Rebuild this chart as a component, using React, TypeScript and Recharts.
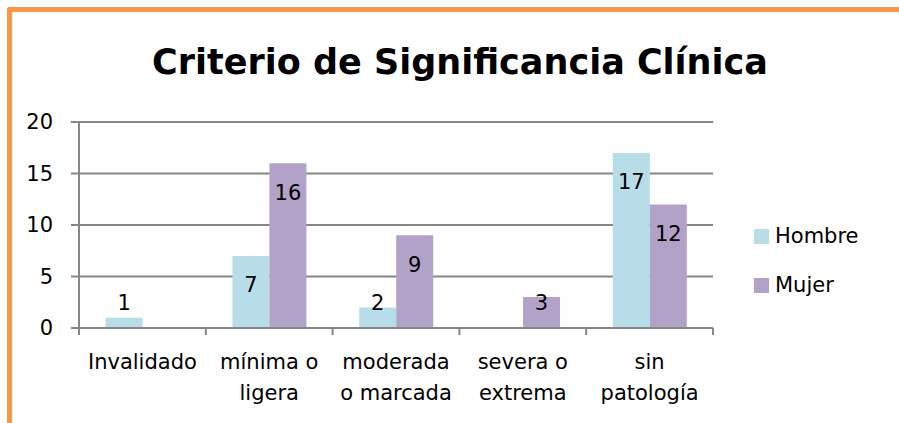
import { BarChart, Bar, XAxis, YAxis, CartesianGrid, Legend, LabelList } from "recharts";

const categories = ["Invalidado", "mínima o\nligera", "moderada\no marcada", "severa o\nextrema", "sin\npatología"];
const hombre = [1, 7, 2, null, 17];
const mujer = [null, 16, 9, 3, 12];
const yTicks = [0, 5, 10, 15, 20];

const data = categories.map((name, i) => ({ name, Hombre: hombre[i], Mujer: mujer[i] }));

const W = 899;
const H = 423;
const PLOT_LEFT = 79;
const PLOT_RIGHT = 713;
const HALF_BAND = (PLOT_RIGHT - PLOT_LEFT) / categories.length / 2;
const FONT = "'DejaVu Sans', sans-serif";
const FS = 21;
const GRID = "#868686";

function CategoryTick(props: any) {
  const { x, y, payload, index } = props;
  const lines = String(payload.value).split("\n");
  return (
    <g>
      <line x1={x - HALF_BAND} x2={x - HALF_BAND} y1={y} y2={y + 7} stroke={GRID} strokeWidth={2} />
      {index === categories.length - 1 && (
        <line x1={x + HALF_BAND} x2={x + HALF_BAND} y1={y} y2={y + 7} stroke={GRID} strokeWidth={2} />
      )}
      <text x={x} y={y + 41} textAnchor="middle" fontSize={FS} fontFamily={FONT} fill="#000">
        {lines.map((l, i) => (
          <tspan key={i} x={x} dy={i === 0 ? 0 : 31}>
            {l}
          </tspan>
        ))}
      </text>
    </g>
  );
}

// etiqueta "inside end", bajada a la base cuando la barra es corta
function BarValue(props: any) {
  const { x, y, width, height, value } = props;
  if (value == null) return null;
  const cy = Math.min(y + 29, y + height - 26);
  return (
    <text x={x + width / 2} y={cy} dy="0.36em" textAnchor="middle" fontSize={FS} fontFamily={FONT} fill="#000">
      {value}
    </text>
  );
}

function LegendBox({ payload }: any) {
  return (
    <div style={{ fontFamily: FONT, fontSize: FS, color: "#000" }}>
      {(payload || []).map((p: any) => (
        <div key={p.value} style={{ display: "flex", alignItems: "center", height: 24, marginBottom: 25 }}>
          <span style={{ display: "inline-block", width: 15, height: 15, background: p.color, marginRight: 6 }} />
          <span>{p.value}</span>
        </div>
      ))}
    </div>
  );
}

export default function App() {
  return (
    <div style={{ position: "absolute", left: 0, top: 0, width: W, height: H, overflow: "hidden", background: "#fff" }}>
      <div
        style={{
          position: "absolute",
          left: 7,
          top: 7,
          width: W,
          height: H,
          borderTop: "5px solid #F79646",
          borderLeft: "5px solid #F79646",
          borderTopLeftRadius: 3,
        }}
      />
      <div
        style={{
          position: "absolute",
          left: 0,
          top: 45,
          width: 920,
          textAlign: "center",
          fontFamily: FONT,
          fontWeight: "bold",
          fontSize: 35,
          lineHeight: "34px",
          color: "#000",
        }}
      >
        Criterio de Significancia Clínica
      </div>
      <div style={{ position: "absolute", left: 0, top: 0 }}>
        <BarChart
          width={W}
          height={H}
          data={data}
          margin={{ top: 122, right: W - PLOT_RIGHT, bottom: 0, left: 0 }}
          barCategoryGap="21%"
          barGap={0}
        >
          <CartesianGrid horizontal vertical={false} stroke={GRID} strokeWidth={2} />
          <XAxis
            dataKey="name"
            height={95}
            interval={0}
            tickSize={0}
            tickMargin={0}
            tickLine={false}
            axisLine={{ stroke: GRID, strokeWidth: 2 }}
            tick={<CategoryTick />}
          />
          <YAxis
            width={PLOT_LEFT}
            domain={[0, 20]}
            ticks={yTicks}
            interval={0}
            tickSize={8}
            tickMargin={18}
            tickLine={{ stroke: GRID, strokeWidth: 2 }}
            axisLine={{ stroke: GRID, strokeWidth: 2 }}
            tick={{ fontSize: FS, fontFamily: FONT, fill: "#000" }}
          />
          <Legend
            layout="vertical"
            align="center"
            verticalAlign="middle"
            content={<LegendBox />}
            wrapperStyle={{ left: 754, top: 224, width: 140 }}
          />
          <Bar dataKey="Hombre" fill="#B7DEE8" isAnimationActive={false}>
            <LabelList dataKey="Hombre" content={<BarValue />} />
          </Bar>
          <Bar dataKey="Mujer" fill="#B3A2C7" isAnimationActive={false}>
            <LabelList dataKey="Mujer" content={<BarValue />} />
          </Bar>
        </BarChart>
      </div>
    </div>
  );
}
